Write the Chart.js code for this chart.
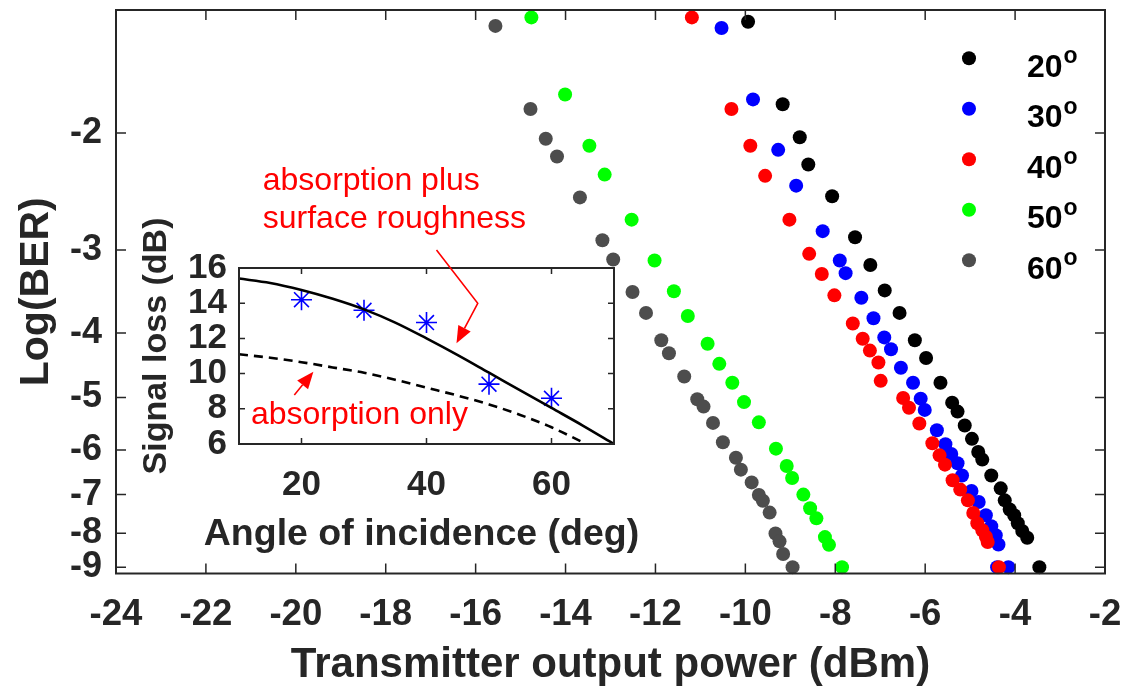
<!DOCTYPE html>
<html>
<head>
<meta charset="utf-8">
<title>BER vs transmitter power</title>
<script src="https://cdn.jsdelivr.net/npm/chart.js@4.4.0/dist/chart.umd.min.js"></script>
<style>
  body { margin: 0; background: #fff; }
  #wrap { position: relative; width: 1126px; height: 691px; }
  #main { position: absolute; left: 0; top: 0; }
  #inset { position: absolute; left: 120px; top: 140px; }
</style>
</head>
<body>
<div id="wrap">
  <canvas id="main" width="1126" height="691"></canvas>
  <canvas id="inset" width="540" height="430"></canvas>
</div>
<script>
const FONT = "'Liberation Sans', Arial, Helvetica, sans-serif";
const AXIS_COLOR = "#262626";

// main plot: transmitter power (dBm) vs log10(BER)
const angleLabels = ["20", "30", "40", "50", "60"];
const seriesColors = ["#000000", "#0000ff", "#ff0000", "#00ff00", "#4d4d4d"];
const powerRange = [-24, -2];
const berRange = [-1.306, -9.2];
const berTicks = [-2, -3, -4, -5, -6, -7, -8, -9];

const power20 = [-9.94, -9.17, -8.79, -8.60, -8.07, -7.56, -7.22, -6.90, -6.57, -6.23, -5.98, -5.66, -5.40, -5.28, -5.12, -4.96, -4.82, -4.73, -4.53, -4.32, -4.23, -4.12, -4.02, -3.94, -3.84, -3.73, -3.46];
const ber20 = [-1.36, -1.81, -2.03, -2.23, -2.49, -2.87, -3.16, -3.45, -3.73, -4.10, -4.36, -4.75, -5.09, -5.25, -5.51, -5.77, -6.04, -6.20, -6.55, -6.85, -7.14, -7.37, -7.52, -7.73, -7.94, -8.13, -9.00];

const power30 = [-10.53, -9.83, -9.27, -8.87, -8.28, -7.90, -7.77, -7.42, -7.15, -6.91, -6.76, -6.54, -6.27, -6.10, -6.01, -5.74, -5.55, -5.42, -5.28, -5.18, -4.97, -4.81, -4.65, -4.53, -4.43, -4.37, -4.40, -4.15];
const ber30 = [-1.39, -1.78, -2.12, -2.40, -2.81, -3.11, -3.25, -3.54, -3.80, -4.06, -4.23, -4.51, -4.75, -5.02, -5.22, -5.60, -5.88, -6.08, -6.28, -6.55, -6.91, -7.18, -7.52, -7.81, -8.06, -8.32, -9.00, -9.00];

const power40 = [-11.19, -10.31, -9.89, -9.56, -9.02, -8.58, -8.30, -8.02, -7.61, -7.39, -7.23, -7.04, -6.99, -6.49, -6.36, -6.13, -5.84, -5.68, -5.56, -5.39, -5.22, -5.05, -4.93, -4.84, -4.73, -4.65, -4.61, -4.36];
const ber40 = [-1.34, -1.84, -2.09, -2.32, -2.70, -3.04, -3.26, -3.51, -3.87, -4.08, -4.25, -4.43, -4.72, -5.01, -5.18, -5.47, -5.86, -6.11, -6.31, -6.66, -6.88, -7.14, -7.46, -7.73, -7.92, -8.10, -8.25, -9.00];

const power50 = [-14.76, -14.01, -13.47, -13.13, -12.53, -12.02, -11.59, -11.28, -10.84, -10.58, -10.29, -10.03, -9.70, -9.32, -9.08, -8.96, -8.71, -8.56, -8.42, -8.23, -8.14, -7.85];
const ber50 = [-1.34, -1.75, -2.09, -2.31, -2.70, -3.11, -3.46, -3.77, -4.15, -4.45, -4.75, -5.08, -5.45, -5.97, -6.34, -6.61, -7.00, -7.34, -7.60, -8.11, -8.33, -9.00];

const power60 = [-15.56, -14.78, -14.44, -14.19, -13.68, -13.18, -12.94, -12.51, -12.21, -11.87, -11.70, -11.36, -11.07, -10.93, -10.72, -10.50, -10.21, -10.10, -9.86, -9.70, -9.61, -9.46, -9.33, -9.24, -9.16, -8.95];
const ber60 = [-1.38, -1.84, -2.04, -2.17, -2.50, -2.90, -3.10, -3.47, -3.73, -4.10, -4.29, -4.65, -5.03, -5.16, -5.46, -5.84, -6.16, -6.42, -6.71, -7.01, -7.15, -7.45, -8.01, -8.23, -8.60, -9.00];

const powerSeries = [power20, power30, power40, power50, power60];
const berSeries = [ber20, ber30, ber40, ber50, ber60];

// inset: signal loss vs angle of incidence
const angleRange = [10, 70];
const lossRange = [6, 16];
const angleTicks = [20, 40, 60];
const lossTicks = [6, 8, 10, 12, 14, 16];
const roughAngles = [10, 15, 20, 25, 30, 35, 40, 45, 50, 55, 60, 65, 70];
const roughLoss = [15.4, 15.15, 14.75, 14.25, 13.65, 12.9, 12.0, 11.05, 10.05, 9.05, 8.05, 7.05, 6.0];
const absAngles = [10, 15, 20, 25, 30, 35, 40, 45, 50, 55, 60, 65];
const absLoss = [11.1, 10.9, 10.65, 10.35, 10.05, 9.65, 9.2, 8.75, 8.25, 7.65, 6.95, 6.1];
const measAngles = [20, 30, 40, 50, 60];
const measLoss = [14.2, 13.6, 12.9, 9.4, 8.6];

// annotation anchors, in inset data units (angle, loss)
const noteRough = { lines: ["absorption plus", "surface roughness"], at: [[13.8, 20.43], [13.8, 18.27]] };
const arrowRough = [[41.6, 17.02], [48.2, 13.99], [44.8, 11.72]];
const noteAbs = { lines: ["absorption only"], at: [[11.9, 7.14]] };
const arrowAbs = [[18.85, 8.78], [21.9, 10.11]];

// BER axis is log10(-log10(BER)), like MATLAB's BER paper
const toAxis = (logBer) => Math.log10(-logBer);

// keep chart area where we put it: drop the label overhang padding
function noOverhang(s) {
  s.paddingTop = 0; s.paddingBottom = 0; s.paddingLeft = 0; s.paddingRight = 0;
}

function frameTicks(tickLen) {
  return {
    id: "frameTicks",
    afterDraw(chart) {
      const { ctx, chartArea: a, scales } = chart;
      ctx.save();
      ctx.strokeStyle = AXIS_COLOR;
      ctx.lineWidth = 1.5;
      ctx.beginPath();
      scales.x.ticks.forEach(t => {
        const px = scales.x.getPixelForValue(t.value);
        ctx.moveTo(px, a.bottom); ctx.lineTo(px, a.bottom - tickLen);
        ctx.moveTo(px, a.top); ctx.lineTo(px, a.top + tickLen);
      });
      scales.y.ticks.forEach(t => {
        const py = scales.y.getPixelForValue(t.value);
        ctx.moveTo(a.left, py); ctx.lineTo(a.left + tickLen, py);
        ctx.moveTo(a.right, py); ctx.lineTo(a.right - tickLen, py);
      });
      ctx.stroke();
      ctx.lineWidth = 2;
      ctx.strokeRect(a.left, a.top, a.right - a.left, a.bottom - a.top);
      ctx.restore();
    }
  };
}

const angleLegend = {
  id: "angleLegend",
  afterDraw(chart) {
    const { ctx, chartArea: a } = chart;
    ctx.save();
    angleLabels.forEach((lab, i) => {
      const cy = a.top + 48.3 + i * 50.5;
      const cx = a.right - 136;
      ctx.fillStyle = seriesColors[i];
      ctx.beginPath();
      ctx.arc(cx, cy, 7, 0, Math.PI * 2);
      ctx.fill();
      ctx.fillStyle = "#000";
      ctx.textBaseline = "alphabetic";
      ctx.font = "bold 32px " + FONT;
      ctx.fillText(lab, cx + 58, cy + 18.5);
      const w = ctx.measureText(lab).width;
      ctx.font = "bold 23px " + FONT;
      ctx.fillText("o", cx + 59 + w, cy + 5);
    });
    ctx.restore();
  }
};

const mainDatasets = angleLabels.map((lab, i) => ({
  label: lab + "°",
  data: powerSeries[i].map((p, j) => ({ x: p, y: toAxis(berSeries[i][j]) })),
  backgroundColor: seriesColors[i],
  borderColor: seriesColors[i],
  pointRadius: 7,
  pointBorderWidth: 0,
  showLine: false,
  clip: false,
  order: 5 - i
}));

new Chart(document.getElementById("main"), {
  type: "scatter",
  data: { datasets: mainDatasets },
  options: {
    responsive: false,
    animation: false,
    layout: { padding: { top: 10, right: 21, left: 0, bottom: 0 } },
    plugins: { legend: { display: false }, tooltip: { enabled: false } },
    scales: {
      x: {
        type: "linear",
        min: powerRange[0],
        max: powerRange[1],
        grid: { display: false, drawTicks: false },
        border: { display: false },
        ticks: {
          stepSize: 2, autoSkip: false, maxRotation: 0, padding: 20,
          color: AXIS_COLOR,
          font: { family: FONT, size: 36.5, weight: "bold" }
        },
        title: {
          display: true, text: "Transmitter output power (dBm)", color: AXIS_COLOR,
          font: { family: FONT, size: 42, weight: "bold" },
          padding: { top: 0, bottom: 0 }
        },
        afterFit(s) { s.height = 117.5; noOverhang(s); }
      },
      y: {
        type: "linear",
        reverse: true,
        min: toAxis(berRange[0]),
        max: toAxis(berRange[1]),
        grid: { display: false, drawTicks: false },
        border: { display: false },
        afterBuildTicks(s) { s.ticks = berTicks.map(v => ({ value: toAxis(v) })); },
        ticks: {
          autoSkip: false, padding: 14,
          color: AXIS_COLOR,
          font: { family: FONT, size: 36, weight: "bold" },
          callback: (v) => String(Math.round(-Math.pow(10, v)))
        },
        title: {
          display: true, text: "Log(BER)", color: AXIS_COLOR,
          font: { family: FONT, size: 41, weight: "bold" },
          padding: { top: 12, bottom: 0 }
        },
        afterFit(s) { s.width = 116; noOverhang(s); }
      }
    }
  },
  plugins: [frameTicks(10), angleLegend]
});

function arrowTo(ctx, pts, color) {
  ctx.strokeStyle = color;
  ctx.fillStyle = color;
  ctx.lineWidth = 1.6;
  const n = pts.length;
  const [tx, ty] = pts[n - 1];
  const [px, py] = pts[n - 2];
  const ang = Math.atan2(ty - py, tx - px);
  const len = 17, half = 7;
  const bx = tx - Math.cos(ang) * len, by = ty - Math.sin(ang) * len;
  ctx.beginPath();
  ctx.moveTo(pts[0][0], pts[0][1]);
  for (let k = 1; k < n - 1; k++) ctx.lineTo(pts[k][0], pts[k][1]);
  ctx.lineTo(bx, by);
  ctx.stroke();
  ctx.beginPath();
  ctx.moveTo(tx, ty);
  ctx.lineTo(bx + Math.sin(ang) * half, by - Math.cos(ang) * half);
  ctx.lineTo(bx - Math.sin(ang) * half, by + Math.cos(ang) * half);
  ctx.closePath();
  ctx.fill();
}

const insetTitles = { x: "Angle of incidence (deg)", y: "Signal loss (dB)" };

const insetNotes = {
  id: "insetNotes",
  beforeDraw(chart) {
    const { ctx, chartArea: a } = chart;
    ctx.save();
    ctx.fillStyle = "#fff";
    ctx.fillRect(a.left, a.top, a.right - a.left, a.bottom - a.top);
    ctx.restore();
  },
  afterDraw(chart) {
    const { ctx, chartArea: a, scales: { x, y } } = chart;
    const px = (p) => [x.getPixelForValue(p[0]), y.getPixelForValue(p[1])];
    ctx.save();

    // axis titles drawn by hand: they are wider than the inset itself
    ctx.fillStyle = AXIS_COLOR;
    ctx.textAlign = "center";
    ctx.textBaseline = "alphabetic";
    ctx.font = "bold 37.5px " + FONT;
    ctx.fillText(insetTitles.x, (a.left + a.right) / 2 - 5, a.bottom + 101);
    ctx.save();
    ctx.translate(46, a.top + 78);
    ctx.rotate(-Math.PI / 2);
    ctx.font = "bold 34px " + FONT;
    ctx.fillText(insetTitles.y, 0, 0);
    ctx.restore();

    ctx.textAlign = "left";
    ctx.font = "32px " + FONT;
    ctx.fillStyle = "#ff0000";
    [noteRough, noteAbs].forEach(n => {
      n.lines.forEach((t, k) => {
        const [tx, ty] = px(n.at[k]);
        ctx.fillText(t, tx, ty);
      });
    });
    arrowTo(ctx, arrowRough.map(px), "#ff0000");
    arrowTo(ctx, arrowAbs.map(px), "#ff0000");
    ctx.restore();
  }
};

new Chart(document.getElementById("inset"), {
  type: "scatter",
  data: {
    datasets: [
      {
        data: roughAngles.map((a, i) => ({ x: a, y: roughLoss[i] })),
        showLine: true, borderColor: "#000", borderWidth: 2.6,
        pointRadius: 0, cubicInterpolationMode: "monotone", clip: false
      },
      {
        data: absAngles.map((a, i) => ({ x: a, y: absLoss[i] })),
        showLine: true, borderColor: "#000", borderWidth: 2.6, borderDash: [9, 6],
        pointRadius: 0, cubicInterpolationMode: "monotone", clip: false
      },
      {
        data: measAngles.map((a, i) => ({ x: a, y: measLoss[i] })),
        showLine: false, pointStyle: "star", pointRadius: 10.5,
        borderColor: "#0000ff", backgroundColor: "#0000ff", pointBorderWidth: 1.6, clip: false
      }
    ]
  },
  options: {
    responsive: false,
    animation: false,
    layout: { padding: { top: 128, right: 46, left: 0, bottom: 0 } },
    plugins: { legend: { display: false }, tooltip: { enabled: false } },
    scales: {
      x: {
        type: "linear",
        min: angleRange[0], max: angleRange[1],
        grid: { display: false, drawTicks: false },
        border: { display: false },
        afterBuildTicks(s) { s.ticks = angleTicks.map(v => ({ value: v })); },
        ticks: {
          autoSkip: false, maxRotation: 0, padding: 20, color: AXIS_COLOR,
          font: { family: FONT, size: 35, weight: "bold" }
        },
        title: { display: false },
        afterFit(s) { s.height = 126; noOverhang(s); }
      },
      y: {
        type: "linear",
        min: lossRange[0], max: lossRange[1],
        grid: { display: false, drawTicks: false },
        border: { display: false },
        afterBuildTicks(s) { s.ticks = lossTicks.map(v => ({ value: v })); },
        ticks: {
          autoSkip: false, padding: 12, color: AXIS_COLOR,
          font: { family: FONT, size: 35, weight: "bold" }
        },
        title: { display: false },
        afterFit(s) { s.width = 119; noOverhang(s); }
      }
    }
  },
  plugins: [frameTicks(6), insetNotes]
});
</script>
</body>
</html>
